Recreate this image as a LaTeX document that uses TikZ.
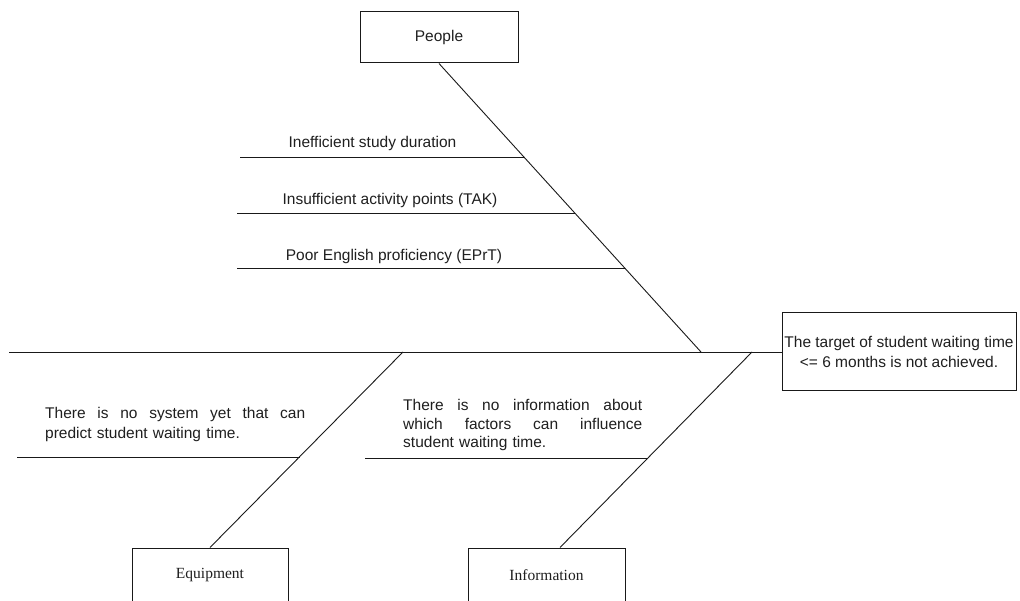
\documentclass[tikz,border=0pt]{standalone}
\usepackage{fontspec}
\setmainfont{Liberation Sans}
\newfontfamily\timesfont{Liberation Serif}
\newcommand{\justline}[2]{\makebox[#1][s]{\spaceskip=0pt\xspaceskip=0pt\relax #2}}
\begin{document}
\begin{tikzpicture}[x=1pt,y=-1pt,
  line/.style={draw=black!90, line width=0.9pt},
  box/.style={draw=black!90, line width=1pt, rectangle, inner sep=0pt, fill=white},
  lbl/.style={inner sep=0pt, text=black!88, font=\fontsize{15.5}{20}\selectfont},
  serifbox/.style={box, text=black!88, font=\timesfont\fontsize{15.5}{20}\selectfont},
]
\useasboundingbox (0,0) rectangle (1020,601);
\fill[white] (0,0) rectangle (1020,601);

% boxes
\node[box, lbl, minimum width=158pt, minimum height=51pt] (people) at (439,37.5) {People};
\node[box, lbl, minimum width=234pt, minimum height=78pt, align=center] (goal) at (899,352)
  {The target of student waiting time\\<= 6 months is not achieved.};
\node[serifbox, minimum width=156pt, minimum height=54pt] (equip) at (210,575) {Equipment};
\node[serifbox, minimum width=157pt, minimum height=54pt] (info) at (546.5,575) {Information};

% junctions
\coordinate (tail) at (9,352);
\coordinate (pj) at (701,352);
\coordinate (ej) at (403,352);
\coordinate (ij) at (752,352);

% spine and bones
\draw[line] (tail) -- (goal.west);
\draw[line] (people.south) -- (pj);
\draw[line] (ej) -- (equip.north);
\draw[line] (ij) -- ([xshift=13.5pt]info.north);

% ribs
\coordinate (r1l) at (240,157); \coordinate (r1r) at (525,157);
\coordinate (r2l) at (237,213); \coordinate (r2r) at (575,213);
\coordinate (r3l) at (237,268); \coordinate (r3r) at (625,268);
\coordinate (r4l) at (17,457);  \coordinate (r4r) at (300,457);
\coordinate (r5l) at (365,458); \coordinate (r5r) at (648,458);
\draw[line] (r1l) -- (r1r);
\draw[line] (r2l) -- (r2r);
\draw[line] (r3l) -- (r3r);
\draw[line] (r4l) -- (r4r);
\draw[line] (r5l) -- (r5r);

% rib labels
\node[lbl] (t1) at (372.5,143.5) {Inefficient study duration};
\node[lbl] (t2) at (390,200.5) {Insufficient activity points (TAK)};
\node[lbl] (t3) at (394,256.5) {Poor English proficiency (EPrT)};

\node[lbl, anchor=north west, text width=260pt, align=left] (eqt) at (45,407)
  {\justline{260pt}{There is no system yet that can}\\predict student waiting time.};
\node[lbl, font=\fontsize{15.5}{18.7}\selectfont, anchor=north west, text width=239pt, align=left] (inft) at (403,399)
  {\justline{239pt}{There is no information about}\\\justline{239pt}{which factors can influence}\\student waiting time.};
\end{tikzpicture}
\end{document}
